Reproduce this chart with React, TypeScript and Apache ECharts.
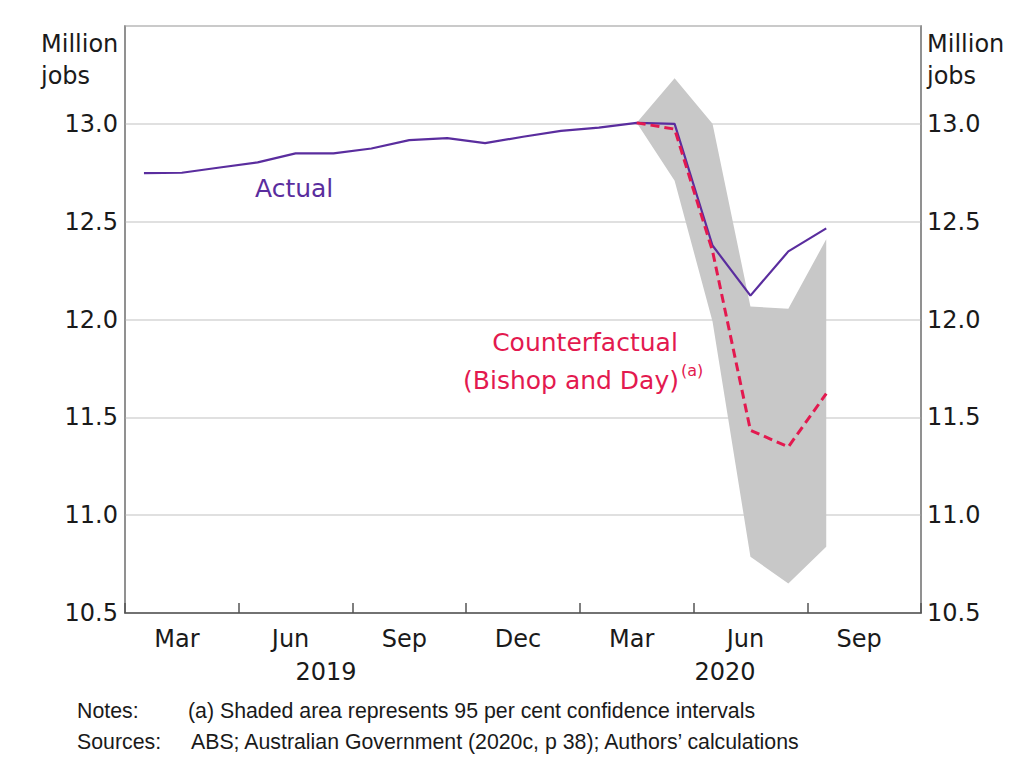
import { useEffect, useRef } from "react";
import * as echarts from "echarts";

const months = [
  "Jan 2019", "Feb 2019", "Mar 2019", "Apr 2019", "May 2019", "Jun 2019",
  "Jul 2019", "Aug 2019", "Sep 2019", "Oct 2019", "Nov 2019", "Dec 2019",
  "Jan 2020", "Feb 2020", "Mar 2020", "Apr 2020", "May 2020", "Jun 2020",
  "Jul 2020", "Aug 2020", "Sep 2020",
];
const quarterLabels = ["Mar", "Jun", "Sep", "Dec", "Mar", "Jun", "Sep"];
const yearLabels = ["2019", "2020"];

const actual = [
  12.748, 12.75, 12.777, 12.803, 12.849, 12.849, 12.874, 12.917, 12.927, 12.901,
  12.934, 12.964, 12.981, 13.005, 13.0, 12.378, 12.122, 12.348, 12.466, null, null,
];
const counterfactual = [
  null, null, null, null, null, null, null, null, null, null, null, null, null,
  13.005, 12.973, 12.35, 11.434, 11.349, 11.621, null, null,
];
const bandLower = [
  null, null, null, null, null, null, null, null, null, null, null, null, null,
  13.005, 12.709, 11.99, 10.787, 10.651, 10.838, null, null,
];
const bandUpper = [
  null, null, null, null, null, null, null, null, null, null, null, null, null,
  13.005, 13.233, 13.0, 12.066, 12.055, 12.41, null, null,
];

const FONT = "DejaVu Sans";
const NOTE_FONT = "Liberation Sans";
const TXT = "#1a1a1a";
const PURPLE = "#5a2d9e";
const RED = "#e3194f";

export default function App() {
  const ref = useRef<HTMLDivElement>(null);
  useEffect(() => {
    document.body.style.margin = "0";
    const chart = echarts.init(ref.current!, null, { renderer: "svg" });
    const bandDiff = bandUpper.map((u, i) =>
      u == null || bandLower[i] == null ? null : +(u - (bandLower[i] as number)).toFixed(4)
    );
    const yAxisCommon = {
      type: "value" as const,
      min: 10.5,
      max: 13.5,
      interval: 0.5,
      axisLine: { show: true, lineStyle: { color: "#8a8a8a", width: 1.5 } },
      axisTick: { show: false },
    };
    const labelFmt = (v: number) => (v >= 13.5 ? "" : v.toFixed(1));
    const txt = (x: number, y: number, text: string, extra: any = {}) => ({
      type: "text",
      x,
      y,
      style: {
        text,
        fontFamily: FONT,
        fontSize: 24,
        fill: TXT,
        textAlign: "left",
        textVerticalAlign: "middle",
        ...extra,
      },
    });
    chart.setOption({
      animation: false,
      grid: {
        left: 125,
        right: 103,
        top: 26,
        bottom: 155,
        show: true,
        borderColor: "#8a8a8a",
        borderWidth: 1.5,
        outerBoundsMode: "none",
      },
      xAxis: {
        type: "category",
        data: months,
        boundaryGap: true,
        axisLine: { show: true, lineStyle: { color: "#555", width: 1.5 } },
        axisTick: {
          show: true,
          inside: true,
          length: 10,
          interval: (index: number) => index % 3 === 0,
          lineStyle: { color: "#555", width: 1.5 },
        },
        axisLabel: {
          interval: (index: number) => index % 3 === 1,
          formatter: (_v: string, index: number) => quarterLabels[Math.floor(index / 3)],
          fontFamily: FONT,
          fontSize: 24,
          color: TXT,
          margin: 14,
          padding: [0, 10, 0, 0],
        },
        splitLine: { show: false },
      },
      yAxis: [
        {
          ...yAxisCommon,
          position: "left",
          axisLabel: {
            formatter: labelFmt,
            fontFamily: FONT,
            fontSize: 24,
            color: TXT,
            margin: 7,
          },
          splitLine: { show: true, lineStyle: { color: "#d6d6d6", width: 1.5 } },
        },
        {
          ...yAxisCommon,
          position: "right",
          axisLabel: {
            formatter: labelFmt,
            fontFamily: FONT,
            fontSize: 24,
            color: TXT,
            margin: 6,
          },
          splitLine: { show: false },
        },
      ],
      series: [
        {
          name: "bandLower",
          type: "line",
          data: bandLower,
          stack: "band",
          symbol: "none",
          lineStyle: { opacity: 0 },
          silent: true,
          z: 1,
        },
        {
          name: "bandRange",
          type: "line",
          data: bandDiff,
          stack: "band",
          symbol: "none",
          lineStyle: { opacity: 0 },
          areaStyle: { color: "#c8c8c8", opacity: 1 },
          silent: true,
          z: 1,
        },
        {
          name: "Actual",
          type: "line",
          data: actual,
          symbol: "none",
          lineStyle: { color: PURPLE, width: 2.2 },
          z: 3,
        },
        {
          name: "Counterfactual",
          type: "line",
          data: counterfactual,
          symbol: "none",
          lineStyle: { color: RED, width: 3, type: [9, 5] },
          z: 4,
        },
      ],
      graphic: [
        txt(41, 44, "Million"),
        txt(41, 76, "jobs"),
        txt(927, 44, "Million"),
        txt(927, 76, "jobs"),
        txt(255, 188, "Actual", { fill: PURPLE, fontSize: 25 }),
        txt(585, 342, "Counterfactual", { fill: RED, fontSize: 25, textAlign: "center" }),
        txt(679, 380, "(Bishop and Day)", { fill: RED, fontSize: 25, textAlign: "right" }),
        txt(681, 370, "(a)", { fill: RED, fontSize: 16 }),
        txt(326, 672, yearLabels[0], { textAlign: "center" }),
        txt(725, 672, yearLabels[1], { textAlign: "center" }),
        txt(77, 711, "Notes:", { fontFamily: NOTE_FONT, fontSize: 21.3 }),
        txt(188, 711, "(a) Shaded area represents 95 per cent confidence intervals", { fontFamily: NOTE_FONT, fontSize: 21.3 }),
        txt(77, 742, "Sources:", { fontFamily: NOTE_FONT, fontSize: 21.3 }),
        txt(191, 742, "ABS; Australian Government (2020c, p 38); Authors’ calculations", { fontFamily: NOTE_FONT, fontSize: 21.3 }),
      ],
    });
    return () => chart.dispose();
  }, []);
  return <div ref={ref} style={{ width: 1024, height: 768 }} />;
}
